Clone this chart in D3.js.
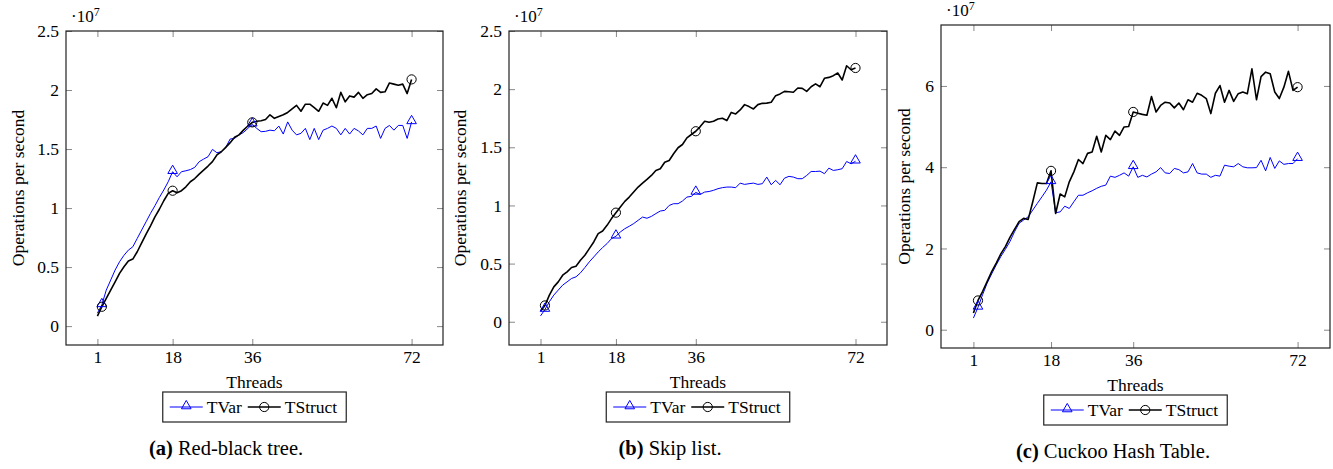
<!DOCTYPE html>
<html>
<head>
<meta charset="utf-8">
<script src="https://cdn.jsdelivr.net/npm/d3@7"></script>
<style>
body { margin: 0; background: #fff; }
</style>
</head>
<body>
<svg width="1333" height="469"></svg>
<script>
// thread counts on the x axis
var threads = [1,2,3,4,5,6,7,8,9,10,11,12,13,14,15,16,17,18,19,20,21,22,23,24,25,26,27,28,29,30,31,32,33,34,35,36,
  37,38,39,40,41,42,43,44,45,46,47,48,49,50,51,52,53,54,55,56,57,58,59,60,61,62,63,64,65,66,67,68,69,70,71,72];
var xTicks = [1, 18, 36, 72];
var markThreads = [2, 18, 36, 72];
var seriesNames = ['TVar', 'TStruct'];

// operations per second, in units of 1e7
var rbTVar = [0.11,0.18,0.305,0.39,0.475,0.545,0.60,0.644,0.672,0.743,0.814,0.884,0.955,1.02,1.09,1.153,1.223,1.308,
  1.265,1.308,1.316,1.326,1.345,1.393,1.415,1.435,1.497,1.469,1.477,1.514,1.585,1.59,1.62,1.64,1.675,1.71,
  1.675,1.647,1.65,1.66,1.655,1.695,1.627,1.73,1.66,1.62,1.633,1.675,1.58,1.675,1.58,1.66,1.675,1.695,
  1.675,1.62,1.675,1.627,1.675,1.653,1.62,1.675,1.675,1.695,1.59,1.675,1.70,1.66,1.70,1.70,1.59,1.73];
var rbTStruct = [0.085,0.164,0.235,0.305,0.375,0.447,0.503,0.551,0.568,0.63,0.706,0.78,0.85,0.926,0.99,1.062,1.124,1.147,
  1.13,1.147,1.18,1.223,1.25,1.288,1.322,1.356,1.393,1.45,1.477,1.514,1.554,1.6,1.62,1.66,1.695,1.726,
  1.735,1.74,1.75,1.79,1.76,1.775,1.79,1.81,1.84,1.87,1.82,1.88,1.88,1.85,1.82,1.89,1.87,1.93,
  1.85,1.98,1.90,1.95,1.94,1.98,1.93,1.96,1.97,2.01,1.98,1.985,2.06,2.05,2.04,2.05,1.97,2.09];

var slTVar = [0.05,0.105,0.172,0.229,0.272,0.315,0.343,0.372,0.386,0.42,0.466,0.515,0.557,0.60,0.638,0.672,0.715,0.735,
  0.772,0.80,0.821,0.844,0.872,0.90,0.89,0.906,0.93,0.952,0.958,1.0,1.015,1.015,1.038,1.072,1.078,1.112,
  1.095,1.115,1.12,1.13,1.144,1.153,1.158,1.158,1.153,1.192,1.181,1.187,1.192,1.181,1.187,1.244,1.178,1.215,
  1.178,1.235,1.25,1.244,1.23,1.23,1.258,1.292,1.292,1.295,1.273,1.321,1.301,1.307,1.316,1.378,1.358,1.38];
var slTStruct = [0.09,0.14,0.229,0.30,0.343,0.40,0.429,0.466,0.478,0.529,0.572,0.629,0.686,0.758,0.78,0.829,0.887,0.938,
  0.986,1.035,1.072,1.115,1.158,1.192,1.224,1.258,1.301,1.315,1.372,1.387,1.444,1.496,1.524,1.581,1.61,1.638,
  1.678,1.724,1.715,1.724,1.744,1.75,1.73,1.80,1.787,1.821,1.867,1.85,1.83,1.867,1.878,1.88,1.887,1.944,
  1.959,1.981,1.978,1.973,2.01,2.007,1.981,2.021,2.045,2.021,2.093,2.101,2.116,2.139,2.079,2.201,2.167,2.182];

var chTVar = [0.287,0.55,0.86,1.145,1.375,1.595,1.80,1.98,2.17,2.41,2.62,2.70,2.78,2.945,3.11,3.27,3.435,3.64,
  2.88,2.90,3.04,2.985,3.15,3.31,3.31,3.37,3.42,3.48,3.53,3.56,3.78,3.75,3.80,3.86,3.78,4.01,
  3.75,3.80,3.76,3.83,3.885,3.99,3.86,3.845,3.97,3.94,3.86,3.885,4.09,3.86,3.83,3.83,3.75,3.80,
  3.78,4.05,4.025,4.01,4.09,4.01,3.985,3.985,3.99,4.17,3.91,4.24,3.97,4.155,4.07,4.09,4.09,4.21];
var chTStruct = [0.41,0.72,0.94,1.185,1.43,1.64,1.865,2.045,2.275,2.47,2.66,2.74,2.715,3.15,3.615,3.6,3.6,3.91,
  2.86,3.34,3.27,3.64,3.885,4.19,4.09,4.34,4.375,4.76,4.375,4.785,4.68,4.89,4.785,4.99,5.0,5.36,
  5.33,5.30,5.28,5.74,5.36,5.52,5.60,5.58,5.46,5.58,5.415,5.66,5.60,5.82,5.77,5.69,5.32,5.82,
  6.01,5.60,5.89,5.62,5.81,5.85,5.81,6.42,5.66,6.23,6.34,6.30,5.85,5.69,5.97,6.36,5.89,5.97];

var rbYTicks = [0, 0.5, 1, 1.5, 2, 2.5];
var slYTicks = [0, 0.5, 1, 1.5, 2, 2.5];
var chYTicks = [0, 2, 4, 6];

var panels = [
  {tvar: rbTVar, tstruct: rbTStruct, yTicks: rbYTicks, yDom: [-0.16, 2.5],
   left: 66, right: 443, top: 31, bottom: 345, labelX: 18, capX: 226, tag: '(a)', caption: ' Red-black tree.'},
  {tvar: slTVar, tstruct: slTStruct, yTicks: slYTicks, yDom: [-0.2, 2.5],
   left: 509, right: 887, top: 31, bottom: 345, labelX: 460, capX: 670, tag: '(b)', caption: ' Skip list.'},
  {tvar: chTVar, tstruct: chTStruct, yTicks: chYTicks, yDom: [-0.45, 7.5],
   left: 941, right: 1330, top: 25, bottom: 348, labelX: 904, capX: 1113, tag: '(c)', caption: ' Cuckoo Hash Table.'}
];

var FONT = "'Liberation Serif', 'Times New Roman', serif";
var blue = '#0000ff';
var svg = d3.select('svg');
var tri = d3.symbol().type(d3.symbolTriangle).size(40);

function fmt(v) { return String(v); }

// every text gets the serif face inline
function label(sel, size) {
  return sel.append('text').style('font-family', FONT).attr('font-size', size).attr('fill', '#000');
}

panels.forEach(function(p) {
  var x = d3.scaleLinear().domain([-6.1, 79.1]).range([p.left, p.right]);
  var y = d3.scaleLinear().domain(p.yDom).range([p.bottom, p.top]);
  var g = svg.append('g');

  // ticks on all four sides, pointing inward
  g.append('g').attr('transform', 'translate(0,' + p.bottom + ')')
    .call(d3.axisBottom(x).tickValues(xTicks).tickSize(-6).tickPadding(6).tickFormat(fmt));
  g.append('g').attr('transform', 'translate(0,' + p.top + ')')
    .call(d3.axisTop(x).tickValues(xTicks).tickSize(-6).tickFormat(''));
  g.append('g').attr('transform', 'translate(' + p.left + ',0)')
    .call(d3.axisLeft(y).tickValues(p.yTicks).tickSize(-6).tickPadding(7).tickFormat(fmt));
  g.append('g').attr('transform', 'translate(' + p.right + ',0)')
    .call(d3.axisRight(y).tickValues(p.yTicks).tickSize(-6).tickFormat(''));
  g.selectAll('.domain').remove();
  g.selectAll('.tick line').attr('stroke', '#888').attr('stroke-width', 1);
  g.selectAll('.tick text').style('font-family', FONT).attr('font-size', 17.5).attr('fill', '#000');

  g.append('rect')
    .attr('x', p.left).attr('y', p.top)
    .attr('width', p.right - p.left).attr('height', p.bottom - p.top)
    .attr('fill', 'none').attr('stroke', '#222').attr('stroke-width', 1.2);

  var line = d3.line()
    .x(function(d, i) { return x(threads[i]); })
    .y(function(d) { return y(d); });

  g.append('path').datum(p.tvar)
    .attr('d', line).attr('fill', 'none')
    .attr('stroke', blue).attr('stroke-width', 1).attr('stroke-linejoin', 'round');
  g.append('path').datum(p.tstruct)
    .attr('d', line).attr('fill', 'none')
    .attr('stroke', '#000').attr('stroke-width', 1.6).attr('stroke-linejoin', 'round');

  markThreads.forEach(function(t) {
    var i = threads.indexOf(t);
    g.append('path')
      .attr('d', tri)
      .attr('transform', 'translate(' + x(t) + ',' + (y(p.tvar[i]) - 1) + ')')
      .attr('fill', 'none').attr('stroke', blue).attr('stroke-width', 1);
    g.append('circle')
      .attr('cx', x(t)).attr('cy', y(p.tstruct[i])).attr('r', 4.6)
      .attr('fill', 'none').attr('stroke', '#000').attr('stroke-width', 1);
  });

  // scale label
  var sc = label(g, 17).attr('x', p.left + 5).attr('y', p.top - 9);
  sc.append('tspan').text('·10');
  sc.append('tspan').attr('dy', -6).attr('font-size', 12).text('7');

  // axis titles
  label(g, 17.5)
    .attr('transform', 'translate(' + p.labelX + ',' + ((p.top + p.bottom) / 2) + ') rotate(-90)')
    .attr('text-anchor', 'middle').attr('dy', '0.35em')
    .text('Operations per second');
  label(g, 17.5)
    .attr('x', (p.left + p.right) / 2).attr('y', p.bottom + 37)
    .attr('text-anchor', 'middle').attr('dy', '0.35em')
    .text('Threads');

  // legend
  var lg = g.append('g');
  var ly = p.bottom + 62;
  var box = lg.append('rect');
  var items = [{name: seriesNames[0], color: blue, w: 1, mark: 'tri'},
               {name: seriesNames[1], color: '#000', w: 1.6, mark: 'circle'}];
  var cx = 7;
  items.forEach(function(it, k) {
    lg.append('line').attr('x1', cx).attr('x2', cx + 33).attr('y1', 0).attr('y2', 0)
      .attr('stroke', it.color).attr('stroke-width', it.w);
    if (it.mark == 'tri') {
      lg.append('path').attr('d', tri).attr('transform', 'translate(' + (cx + 16.5) + ',-1)')
        .attr('fill', 'none').attr('stroke', blue).attr('stroke-width', 1);
    } else {
      lg.append('circle').attr('cx', cx + 16.5).attr('cy', 0).attr('r', 4.6)
        .attr('fill', 'none').attr('stroke', '#000').attr('stroke-width', 1);
    }
    cx += 37;
    var t = label(lg, 17.5).attr('x', cx).attr('y', 0).attr('dy', '0.35em').text(it.name);
    cx += t.node().getComputedTextLength() + (k == 0 ? 6 : 9);
  });
  box.attr('x', 0).attr('y', -15).attr('width', cx).attr('height', 30)
    .attr('fill', '#fff').attr('stroke', '#222').attr('stroke-width', 1.2);
  lg.attr('transform', 'translate(' + ((p.left + p.right) / 2 - cx / 2) + ',' + ly + ')');

  // caption
  var cap = label(g, 20.5)
    .attr('x', p.capX).attr('y', p.bottom + 110)
    .attr('text-anchor', 'middle');
  cap.append('tspan').attr('font-weight', 'bold').text(p.tag);
  cap.append('tspan').text(p.caption);
});
</script>
</body>
</html>
